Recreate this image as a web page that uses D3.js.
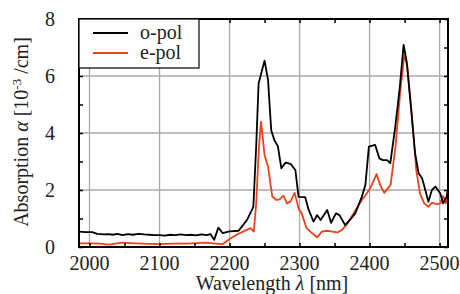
<!DOCTYPE html>
<html>
<head>
<meta charset="utf-8">
<script src="https://cdn.jsdelivr.net/npm/d3@7"></script>
<style>
  body { margin: 0; background: #fff; }
</style>
</head>
<body>
<svg width="460" height="294" font-family="'Liberation Serif', 'Times New Roman', 'DejaVu Serif', serif"></svg>
<script>
// wavelength (nm) and absorption (10^-3 /cm)
const oWave = [1985, 1995, 2004, 2011, 2021, 2028, 2033, 2040, 2047, 2055, 2062, 2070, 2078, 2085, 2093, 2100, 2108, 2115, 2123, 2130, 2138, 2145, 2152, 2160, 2167, 2173, 2178, 2184, 2190, 2200, 2213, 2225, 2234, 2238, 2241.5, 2250, 2255, 2259.5, 2264, 2269, 2274, 2280, 2287, 2294, 2298.6, 2308, 2313, 2320, 2325, 2330, 2339.5, 2345, 2352, 2357, 2365, 2372, 2379.6, 2389, 2394, 2399, 2408, 2414, 2419, 2425, 2429.6, 2436.7, 2443, 2448.6, 2453, 2459, 2465, 2470, 2475, 2479.6, 2484, 2489, 2494, 2501, 2505, 2510, 2513];
const oAbs = [0.54, 0.52, 0.52, 0.46, 0.44, 0.45, 0.43, 0.46, 0.42, 0.45, 0.43, 0.46, 0.44, 0.43, 0.42, 0.42, 0.40, 0.43, 0.42, 0.44, 0.42, 0.43, 0.41, 0.44, 0.42, 0.45, 0.25, 0.68, 0.49, 0.55, 0.57, 0.95, 1.41, 3.5, 5.74, 6.54, 5.86, 4.1, 3.75, 3.54, 2.76, 2.96, 2.92, 2.7, 1.76, 1.75, 1.3, 0.89, 1.12, 0.95, 1.3, 0.85, 1.18, 1.12, 0.77, 0.95, 1.18, 1.77, 2.18, 3.52, 3.58, 3.11, 3.05, 3.05, 2.94, 4.22, 5.57, 7.09, 6.5, 4.92, 3.29, 2.59, 2.41, 2.0, 1.59, 2.0, 2.12, 1.88, 1.53, 1.77, 2.12];

const eWave = [1985, 2000, 2015, 2028, 2047, 2065, 2085, 2100, 2120, 2140, 2166, 2180, 2190, 2200, 2214, 2230, 2234.6, 2238, 2242, 2245, 2250, 2255, 2261, 2267, 2271.5, 2277, 2282, 2287, 2293, 2299, 2303, 2310, 2318, 2325, 2332, 2339.5, 2346.7, 2354, 2360.6, 2368, 2377, 2389, 2396, 2401, 2410, 2415, 2421, 2430, 2437, 2444, 2449.6, 2454, 2460.6, 2466.7, 2472, 2478, 2484, 2489, 2496, 2501, 2505, 2509, 2513];
const eAbs = [0.13, 0.13, 0.12, 0.08, 0.15, 0.13, 0.11, 0.10, 0.12, 0.12, 0.15, 0.12, 0.10, 0.28, 0.48, 0.66, 0.54, 1.5, 3.5, 4.4, 3.23, 2.82, 1.77, 1.65, 1.67, 1.8, 1.53, 1.6, 1.9, 1.32, 1.18, 0.66, 0.48, 0.34, 0.54, 0.57, 0.54, 0.51, 0.6, 0.81, 1.18, 1.65, 1.88, 2.07, 2.56, 2.18, 1.9, 2.18, 3.52, 5.5, 6.74, 6.33, 4.57, 2.7, 1.88, 1.53, 1.41, 1.56, 1.5, 1.53, 1.79, 1.53, 2.18];

const xTicks = [2000, 2100, 2200, 2300, 2400, 2500];
const yTicks = [0, 2, 4, 6, 8];

const svg = d3.select('svg');
const mLeft = 79, mRight = 448, mTop = 19, mBottom = 247;
const fs = 20;
const txtCol = '#222';

const x = d3.scaleLinear().domain([1985, 2512]).range([mLeft, mRight]);
const y = d3.scaleLinear().domain([0, 8]).range([mBottom, mTop]);

// grid
const grid = svg.append('g').attr('stroke', '#aaa').attr('stroke-width', 1.3);
grid.selectAll('.gx').data(xTicks).enter().append('line')
    .attr('x1', d => x(d)).attr('x2', d => x(d))
    .attr('y1', mTop).attr('y2', mBottom);
grid.selectAll('.gy').data(yTicks.slice(1, -1)).enter().append('line')
    .attr('x1', mLeft).attr('x2', mRight)
    .attr('y1', d => y(d)).attr('y2', d => y(d));

svg.append('defs').append('clipPath').attr('id', 'clip')
    .append('rect').attr('x', mLeft).attr('y', mTop)
    .attr('width', mRight - mLeft).attr('height', mBottom - mTop);

const line = d3.line().x(d => x(d[0])).y(d => y(d[1]));

svg.append('path')
    .datum(d3.zip(eWave, eAbs))
    .attr('clip-path', 'url(#clip)')
    .attr('fill', 'none').attr('stroke', '#f0401e').attr('stroke-width', 1.8)
    .attr('stroke-linejoin', 'round')
    .attr('d', line);

svg.append('path')
    .datum(d3.zip(oWave, oAbs))
    .attr('clip-path', 'url(#clip)')
    .attr('fill', 'none').attr('stroke', '#000').attr('stroke-width', 1.8)
    .attr('stroke-linejoin', 'round')
    .attr('d', line);

// axes with inward ticks
const minorX = d3.range(2000, 2512, 50);
const minorY = d3.range(0, 8.01, 1);

svg.append('g').attr('transform', `translate(0,${mBottom})`)
    .call(d3.axisBottom(x).tickValues(minorX).tickSize(-4).tickFormat(''))
    .call(g => g.select('.domain').remove());
svg.append('g').attr('transform', `translate(0,${mTop})`)
    .call(d3.axisTop(x).tickValues(minorX).tickSize(-4).tickFormat(''))
    .call(g => g.select('.domain').remove());
svg.append('g').attr('transform', `translate(${mLeft},0)`)
    .call(d3.axisLeft(y).tickValues(minorY).tickSize(-4).tickFormat(''))
    .call(g => g.select('.domain').remove());
svg.append('g').attr('transform', `translate(${mRight},0)`)
    .call(d3.axisRight(y).tickValues(minorY).tickSize(-4).tickFormat(''))
    .call(g => g.select('.domain').remove());
svg.selectAll('.tick line').attr('stroke', '#000').attr('stroke-width', 1.5);

// tick labels
svg.append('g').selectAll('text').data(xTicks).enter().append('text')
    .attr('x', d => x(d)).attr('y', 270)
    .attr('text-anchor', 'middle').attr('font-size', fs).attr('fill', txtCol)
    .text(d => d);
svg.append('g').selectAll('text').data(yTicks).enter().append('text')
    .attr('x', 55).attr('y', d => y(d) + 6.5)
    .attr('text-anchor', 'end').attr('font-size', fs).attr('fill', txtCol)
    .text(d => d);

// frame
svg.append('rect')
    .attr('x', mLeft).attr('y', mTop)
    .attr('width', mRight - mLeft).attr('height', mBottom - mTop)
    .attr('fill', 'none').attr('stroke', '#000').attr('stroke-width', 2);

// legend
const lg = svg.append('g');
lg.append('rect').attr('x', mLeft).attr('y', mTop).attr('width', 120).attr('height', 49)
    .attr('fill', '#fff').attr('stroke', '#000').attr('stroke-width', 1.2);
const legendItems = [['o-pol', '#000'], ['e-pol', '#f0401e']];
legendItems.forEach((it, i) => {
    const ly = 33 + i * 20;
    lg.append('line').attr('x1', 93).attr('x2', 128).attr('y1', ly).attr('y2', ly)
        .attr('stroke', it[1]).attr('stroke-width', 1.8);
    lg.append('text').attr('x', 140).attr('y', ly + 5.5)
        .attr('font-size', fs).attr('fill', txtCol).text(it[0]);
});

// axis titles
const yt = svg.append('text')
    .attr('transform', 'translate(28,132) rotate(-90)')
    .attr('text-anchor', 'middle').attr('font-size', fs).attr('fill', txtCol);
yt.append('tspan').text('Absorption ');
yt.append('tspan').attr('font-style', 'italic').text('α');
yt.append('tspan').text(' [10');
yt.append('tspan').attr('font-size', 13).attr('dy', -7).text('-3');
yt.append('tspan').attr('dy', 7).text(' /cm]');

const xt = svg.append('text')
    .attr('x', 272).attr('y', 290)
    .attr('text-anchor', 'middle').attr('font-size', fs).attr('fill', txtCol);
xt.append('tspan').text('Wavelength ');
xt.append('tspan').attr('font-style', 'italic').text('λ');
xt.append('tspan').text(' [nm]');
</script>
</body>
</html>
